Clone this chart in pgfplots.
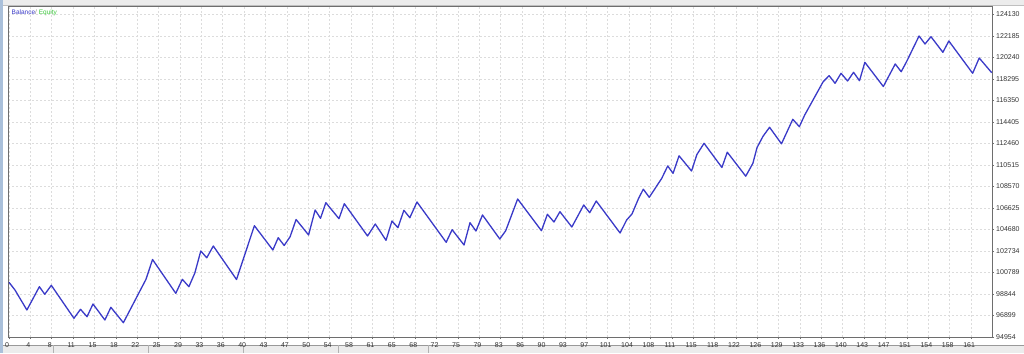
\documentclass[border=0pt]{standalone}
\usepackage{fontspec}
\setmainfont{Liberation Sans}
\usepackage{pgfplots}
\pgfplotsset{compat=1.18}
\definecolor{bal}{RGB}{58,58,200}
\definecolor{eq}{RGB}{60,200,60}
\definecolor{gridc}{RGB}{220,220,220}
\definecolor{framec}{RGB}{110,110,110}
\definecolor{barbg}{RGB}{236,236,236}
\definecolor{sideblue}{RGB}{170,192,218}
\begin{document}
\begin{tikzpicture}
\path[use as bounding box] (-8.3pt,-16pt) rectangle (1015.7pt,337pt);
\fill[white] (-8.3pt,-16pt) rectangle (1015.7pt,337pt);
\fill[barbg] (-8.3pt,331pt) rectangle (1015.7pt,337pt);
\draw[black!25] (-8.3pt,331.5pt) -- (1015.7pt,331.5pt);
\fill[barbg] (-8.3pt,-16pt) rectangle (1015.7pt,-8.3pt);
\draw[black!40] (-8.3pt,-8.3pt) -- (1015.7pt,-8.3pt);
\foreach \t in {45,140,235,330,420}{\draw[black!30] (\t pt,-8.3pt) -- (\t pt,-16pt);}
\fill[sideblue] (-8.3pt,-16pt) rectangle (-4.8pt,337pt);
\begin{axis}[
  at={(0pt,0pt)}, anchor=south west,
  scale only axis, width=983.7pt, height=331pt,
  xmin=-0.12, xmax=165.05, ymin=94954, ymax=124898,
  scaled x ticks=false, scaled y ticks=false,
  axis line style={framec, line width=0.8pt},
  xtick={0,3.59,...,162},
  xticklabels={0,4,8,11,15,18,22,25,29,33,36,40,43,47,50,54,58,61,65,68,72,75,79,83,86,90,93,97,101,104,108,111,115,118,122,126,129,133,136,140,143,147,151,154,158,161},
  ytick={94954,96899,98844,100789,102734,104680,106625,108570,110515,112460,114405,116350,118295,120240,122185,124130},
  yticklabels={94954,96899,98844,100789,102734,104680,106625,108570,110515,112460,114405,116350,118295,120240,122185,124130},
  xtick pos=bottom, ytick pos=right, yticklabel pos=right,
  tick align=outside, major tick length=2pt,
  tick style={framec, line width=0.6pt},
  xticklabel style={font=\fontsize{7}{8}\selectfont, inner sep=0pt, anchor=north, yshift=-3.5pt, xshift=-2pt, text=black!80},
  yticklabel style={font=\fontsize{7}{8}\selectfont, inner sep=0pt, anchor=west, xshift=2pt, text=black!80},
  grid=major,
  major grid style={gridc, line width=0.8pt, dash pattern=on 2pt off 2pt},
]
\addplot[bal, line width=1.3pt, line join=round] coordinates {
(0,99902) (1.0,99206) (3.0,97397) (5.1,99504) (6.0,98817) (7.1,99631)
(10.9,96646) (12.0,97460) (13.1,96790) (14.1,97939) (16.1,96492) (17.1,97641)
(19.2,96248) (23.0,100174) (24.1,101965) (28.0,98907) (29.1,100174) (30.2,99504)
(31.2,100744) (32.2,102734) (33.2,102119) (34.3,103186) (38.2,100156) (41.2,105023)
(44.3,102824) (45.2,103937) (46.2,103232) (47.2,104028) (48.2,105584) (50.3,104181)
(51.4,106443) (52.3,105692) (53.2,107104) (55.4,105656) (56.3,107013) (60.2,104091)
(61.5,105177) (63.3,103702) (64.3,105448) (65.3,104842) (66.3,106416) (67.3,105746)
(68.5,107167) (73.4,103521) (74.4,104661) (76.4,103277) (77.4,105294) (78.4,104543)
(79.5,105991) (82.4,103820) (83.4,104570) (85.4,107438) (89.4,104570) (90.4,106054)
(91.5,105357) (92.5,106289) (94.5,104905) (96.5,106895) (97.5,106199) (98.6,107257)
(102.6,104362) (103.7,105538) (104.6,106081) (105.7,107483) (106.5,108325) (107.5,107592)
(109.6,109311) (110.6,110424) (111.5,109763) (112.5,111346) (114.6,109971) (115.5,111464)
(116.7,112477) (119.7,110288) (120.6,111672) (123.7,109501) (124.9,110668) (125.6,112097)
(126.6,113110) (127.7,113925) (129.7,112432) (131.6,114648) (132.7,113979) (133.6,115037)
(136.7,118050) (137.7,118593) (138.7,117905) (139.7,118810) (140.8,118113) (141.8,118900)
(142.8,118140) (143.7,119805) (146.8,117615) (148.8,119651) (149.8,118954) (150.7,119859)
(152.8,122184) (153.8,121460) (154.8,122121) (156.8,120709) (157.8,121732) (161.8,118810)
(162.9,120194) (165.0,118864)
};
\node[anchor=north west, inner sep=0pt, font=\fontsize{6.5}{7.5}\selectfont] at (rel axis cs:0,1) [xshift=3.2pt, yshift=-3.8pt] {\textcolor{bal}{Balance}\textcolor{black!50}{ / }\textcolor{eq}{Equity}};
\end{axis}
\end{tikzpicture}
\end{document}
